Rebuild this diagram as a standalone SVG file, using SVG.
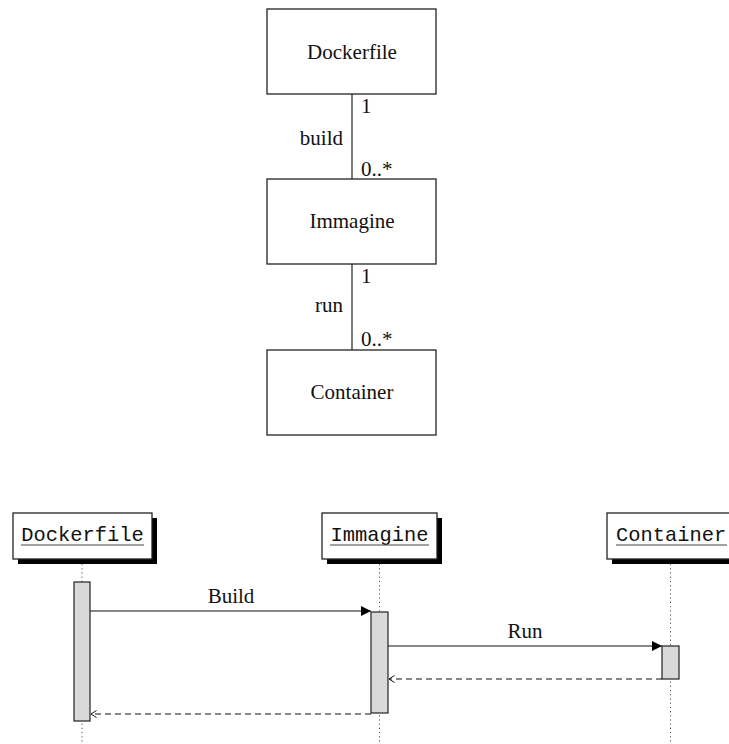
<svg xmlns="http://www.w3.org/2000/svg" width="729" height="744" viewBox="0 0 729 744">
<style>
.cls{fill:#fff;stroke:#222;stroke-width:1.3}
.t{font-family:"Liberation Serif","DejaVu Serif",serif;font-size:21px;fill:#111}
.m{font-family:"Liberation Mono","DejaVu Sans Mono",monospace;font-size:20.4px;fill:#111}
.assoc{stroke:#333;stroke-width:1.3;fill:none}
.life{stroke:#555;stroke-width:1;stroke-dasharray:1.2 3;fill:none}
.act{fill:#d9d9d9;stroke:#222;stroke-width:1.2}
.msg{stroke:#111;stroke-width:1.2;fill:none}
.ret{stroke:#111;stroke-width:1.1;fill:none;stroke-dasharray:6 4}
.ul{stroke:#444;stroke-width:1.2}
</style>
<defs>
<marker id="sync" markerWidth="10" markerHeight="10" refX="10" refY="5" orient="auto" markerUnits="userSpaceOnUse">
<path d="M0,0 L10,5 L0,10 Z" fill="#000"/>
</marker>
<marker id="open" markerWidth="8" markerHeight="8" refX="6" refY="4" orient="auto" markerUnits="userSpaceOnUse">
<path d="M0.5,0.5 L6,4 L0.5,7.5" fill="none" stroke="#111" stroke-width="1"/>
</marker>
</defs>

<g id="connectors">
<line class="assoc" x1="352" y1="94" x2="352" y2="179"/>
<text class="t" x="361" y="113">1</text>
<text class="t" x="343" y="145" text-anchor="end">build</text>
<text class="t" x="361" y="176">0..*</text>
<line class="assoc" x1="352" y1="264" x2="352" y2="350"/>
<text class="t" x="361" y="283">1</text>
<text class="t" x="343" y="312" text-anchor="end">run</text>
<text class="t" x="361" y="346">0..*</text>

<line class="life" x1="82" y1="564" x2="82" y2="744"/>
<line class="life" x1="379.5" y1="564" x2="379.5" y2="744"/>
<line class="life" x1="670.5" y1="564" x2="670.5" y2="744"/>

<line class="msg" x1="90" y1="611" x2="371" y2="611" marker-end="url(#sync)"/>
<text class="t" x="231" y="603" text-anchor="middle">Build</text>
<line class="msg" x1="388" y1="646" x2="662" y2="646" marker-end="url(#sync)"/>
<text class="t" x="525" y="638" text-anchor="middle">Run</text>
<line class="ret" x1="662" y1="679" x2="389" y2="679" marker-end="url(#open)"/>
<line class="ret" x1="371" y1="714" x2="91" y2="714" marker-end="url(#open)"/>
</g>

<g id="class-dockerfile">
<rect class="cls" x="267" y="9" width="169" height="85"/>
<text class="t" x="352" y="59" text-anchor="middle">Dockerfile</text>
</g>
<g id="class-immagine">
<rect class="cls" x="267" y="179" width="169" height="85"/>
<text class="t" x="352" y="228" text-anchor="middle">Immagine</text>
</g>
<g id="class-container">
<rect class="cls" x="267" y="350" width="169" height="85"/>
<text class="t" x="352" y="399" text-anchor="middle">Container</text>
</g>

<g id="obj-dockerfile">
<rect x="18" y="518" width="139" height="46" fill="#000"/>
<rect class="cls" x="13" y="513" width="139" height="46"/>
<text class="m" x="82.5" y="541" text-anchor="middle">Dockerfile</text>
<line class="ul" x1="21" y1="545" x2="144" y2="545"/>
</g>
<g id="obj-immagine">
<rect x="327" y="518" width="115" height="46" fill="#000"/>
<rect class="cls" x="322" y="513" width="115" height="46"/>
<text class="m" x="379.5" y="541" text-anchor="middle">Immagine</text>
<line class="ul" x1="330" y1="545" x2="429" y2="545"/>
</g>
<g id="obj-container">
<rect x="612" y="518" width="130" height="46" fill="#000"/>
<rect class="cls" x="607" y="513" width="130" height="46"/>
<text class="m" x="616" y="541">Container</text>
<line class="ul" x1="616" y1="545" x2="727" y2="545"/>
</g>

<g id="activations">
<rect class="act" x="74" y="582" width="16" height="139"/>
<rect class="act" x="371" y="612" width="17" height="101"/>
<rect class="act" x="662" y="646" width="17" height="33"/>
</g>
</svg>
